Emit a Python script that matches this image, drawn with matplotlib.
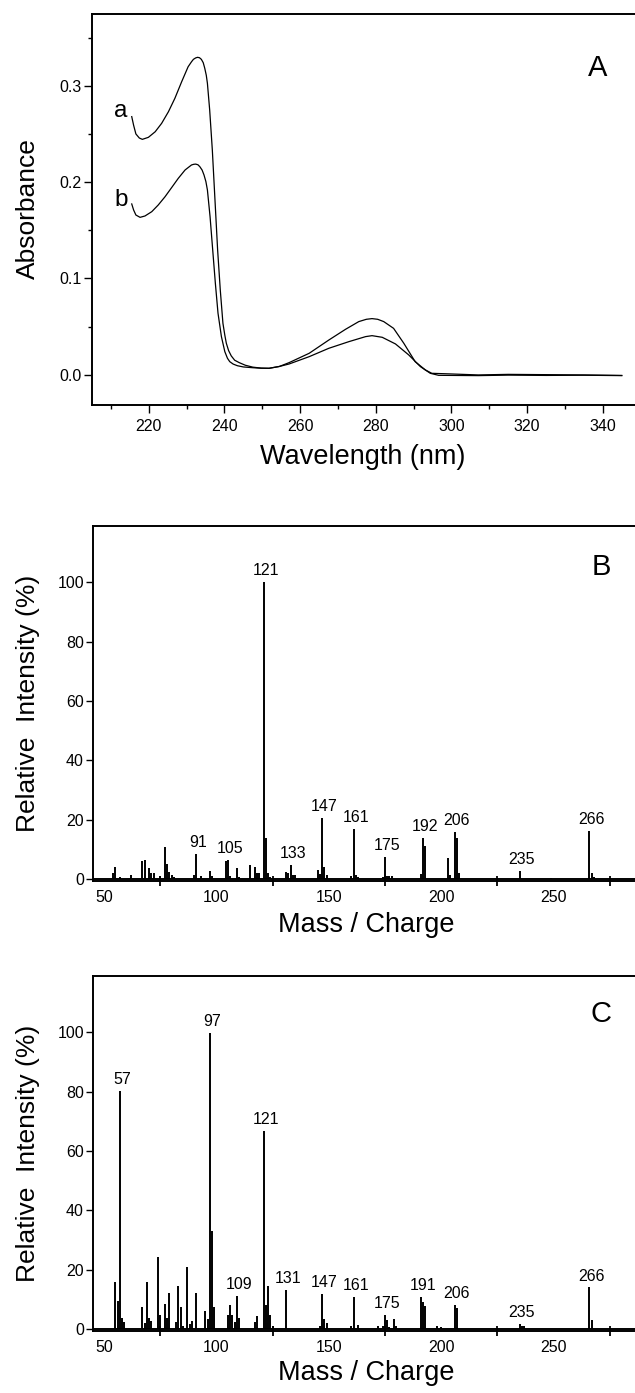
import matplotlib
matplotlib.use("Agg")
import matplotlib.pyplot as plt
from matplotlib.ticker import MultipleLocator, FixedLocator
import numpy as np

plt.rcParams['font.family'] = ['Liberation Sans', 'DejaVu Sans']

# ---------------- Panel A data (UV spectra) ----------------
wl_a = [215.5, 216.0, 216.6, 217.5, 218.3, 219.9, 221.7, 223.4, 225.2, 226.9, 228.7,
        230.4, 231.3, 231.8, 232.4, 232.9, 233.4, 233.9, 234.4, 234.8, 235.2, 235.5,
        236.1, 236.8, 237.5, 238.2, 238.9, 239.6, 240.1, 240.5, 241.1, 241.8, 242.7,
        243.9, 245.5, 247.5, 249.7, 251.8, 254.5, 257.1, 262.4, 267.6, 272.0,
        275.5, 277.5, 279.0, 280.5, 282.1, 284.7, 287.4, 290.4, 293.1, 294.8, 300.1,
        307.1, 315.0, 325.0, 335.0, 345.0]
abs_a = [0.268, 0.259, 0.250, 0.2458, 0.2444, 0.2465, 0.2523, 0.2610, 0.2731, 0.2870, 0.3043,
         0.3198, 0.3250, 0.3275, 0.3290, 0.3296, 0.3292, 0.3275, 0.3240, 0.3182, 0.3110, 0.3026,
         0.2749, 0.2333, 0.1814, 0.1295, 0.0880, 0.0534, 0.0410, 0.0326, 0.0250, 0.0195, 0.0150,
         0.0125, 0.0098, 0.0078, 0.0068, 0.0066, 0.0085, 0.0125, 0.0222, 0.0360, 0.0471,
         0.0551, 0.0575, 0.0582, 0.0575, 0.0551, 0.0481, 0.0326, 0.0135, 0.0049, 0.0014, 0.0007,
         -0.0003, 0.0003, 0.0, -0.0003, -0.0008]

wl_b = [215.5, 216.0, 216.6, 217.7, 219.0, 220.8, 222.5, 224.3, 226.1, 227.8, 229.6,
        231.3, 231.9, 232.4, 233.0, 233.5, 234.1, 234.6, 235.1, 235.5, 236.2, 236.9,
        237.6, 238.3, 239.2, 240.1, 240.8, 241.4, 242.3, 243.4, 245.0, 247.5, 249.7,
        251.8, 254.5, 257.1, 262.4, 267.6, 272.9, 277.3, 279.0, 281.7, 285.2, 288.7,
        291.8, 294.4, 296.6, 307.1, 315.0, 325.0, 335.0, 345.0]
abs_b = [0.1773, 0.1710, 0.1658, 0.1634, 0.1648, 0.1693, 0.1762, 0.1848, 0.1946, 0.2039, 0.2126,
         0.2178, 0.2185, 0.2187, 0.2180, 0.2160, 0.2125, 0.2074, 0.2005, 0.1918, 0.1641, 0.1295,
         0.0949, 0.0638, 0.0395, 0.0239, 0.0170, 0.0135, 0.0110, 0.0093, 0.0080, 0.0072, 0.0067,
         0.0066, 0.0085, 0.0111, 0.0187, 0.0274, 0.0343, 0.0395, 0.0405, 0.0388, 0.0319, 0.0205,
         0.0083, 0.0014, -0.0007, -0.0010, -0.0005, -0.0008, -0.0006, -0.0010]

# ---------------- Panel B data (mass spectrum) ----------------
mz_B = [54, 55, 57, 62, 67, 68, 70, 71, 72, 75, 77, 78, 79, 80, 81,
        90, 91, 93, 97, 98, 104, 105, 106, 109, 110, 115, 117, 118, 119,
        121, 122, 123, 124, 131, 132, 133, 134, 135, 145, 146, 147, 148, 149,
        160, 161, 162, 163, 174, 175, 176, 177, 178, 191, 192, 193,
        203, 204, 206, 207, 208, 225, 235, 249, 266, 267, 268]
int_B = [1.9, 4.2, 0.8, 1.3, 6.1, 6.4, 3.6, 1.9, 2.1, 1.0, 10.9, 5.1, 2.5, 1.3, 0.6,
         1.3, 8.4, 1.0, 2.7, 1.1, 6.1, 6.4, 1.1, 3.6, 0.8, 4.7, 4.2, 1.9, 2.1,
         100.0, 13.9, 1.9, 0.8, 2.5, 1.9, 4.7, 1.3, 1.3, 3.0, 1.6, 20.7, 4.2, 1.3,
         1.0, 16.9, 1.3, 0.6, 0.6, 7.5, 1.0, 1.0, 1.0, 1.6, 13.7, 11.2,
         7.0, 1.3, 16.0, 13.9, 2.1, 0.5, 2.8, 0.5, 16.3, 1.9, 0.8]
labels_B = [91, 105, 121, 133, 147, 161, 175, 192, 206, 235, 266]

# ---------------- Panel C data (mass spectrum) ----------------
mz_C = [55, 56, 57, 58, 59, 67, 68, 69, 70, 71, 74, 75, 77, 78, 79, 82, 83, 84, 85,
        87, 88, 89, 91, 95, 96, 97, 98, 99, 105, 106, 107, 108, 109, 110, 117, 118,
        121, 122, 123, 124, 125, 131, 146, 147, 148, 149, 160, 161, 163,
        172, 174, 175, 176, 177, 179, 180, 191, 192, 193, 198, 200, 206, 207,
        235, 236, 237, 266, 267]
int_C = [15.7, 9.6, 80.4, 3.7, 2.2, 7.3, 2.0, 15.7, 3.6, 2.6, 24.3, 4.8, 8.4, 3.7, 12.1, 2.2, 14.6, 7.3, 1.1,
         20.8, 1.8, 2.6, 12.1, 6.0, 3.4, 99.8, 32.9, 7.3, 4.8, 8.2, 4.8, 2.2, 11.0, 3.6, 2.2, 4.5,
         66.9, 8.2, 14.6, 4.7, 1.1, 13.3, 1.1, 11.9, 3.4, 2.0, 1.1, 10.7, 1.5,
         1.1, 1.1, 4.8, 3.1, 0.7, 3.4, 1.1, 10.7, 9.0, 7.9, 0.9, 0.7, 8.0, 7.1,
         1.7, 1.1, 0.9, 14.0, 3.1]
labels_C = [57, 97, 109, 121, 131, 147, 161, 175, 191, 206, 235, 266]

W, H = 635, 1393
fig = plt.figure(figsize=(W / 100, H / 100), dpi=100)


def box(l, t, r, b):
    return [l / W, 1 - b / H, (r - l) / W, (b - t) / H]


# ---------------- Panel A ----------------
axA = fig.add_axes(box(92, 14, 635, 404.5))
axA.plot(wl_a, abs_a, color='black', lw=0.9)
axA.plot(wl_b, abs_b, color='black', lw=0.9)
axA.set_xlim(205, 348.5)
axA.set_ylim(-0.031, 0.3746)
axA.xaxis.set_major_locator(MultipleLocator(20))
axA.xaxis.set_minor_locator(MultipleLocator(10))
axA.yaxis.set_major_locator(FixedLocator([0.0, 0.1, 0.2, 0.3]))
axA.yaxis.set_minor_locator(FixedLocator([0.05, 0.15, 0.25, 0.35]))
axA.set_yticklabels(['0.0', '0.1', '0.2', '0.3'])
axA.tick_params(axis='both', which='major', direction='out', length=5.5, width=1.0,
                labelsize=11.5)
axA.tick_params(axis='x', which='major', pad=5)
axA.tick_params(axis='y', which='major', pad=2)
axA.tick_params(axis='both', which='minor', direction='out', length=3, width=1.0)
axA.spines['right'].set_visible(False)
for s in ['left', 'bottom', 'top']:
    axA.spines[s].set_linewidth(1.4)
axA.text(212.7, 0.274, 'a', fontsize=17.5, ha='center', va='center')
axA.text(212.7, 0.181, 'b', fontsize=17.5, ha='center', va='center')
fig.text(598 / W, 1 - 68 / H, 'A', fontsize=21, ha='center', va='center')
fig.text(28 / W, 1 - 209 / H, 'Absorbance', fontsize=19, rotation=90,
         ha='center', va='center')
fig.text(363 / W, 1 - 457 / H, 'Wavelength (nm)', fontsize=19.5,
         ha='center', va='center')


def ms_panel(top, bottom, mz, inten, labels, letter, letter_y, xlabel_y):
    ax = fig.add_axes(box(93, top, 635, bottom))
    ax.vlines(mz, 0, inten, color='black', lw=1.4)
    ax.axhline(0, color='black', lw=1.4)
    ax.set_xlim(45, 286.3)
    ax.set_ylim(-0.5, 119)
    ax.xaxis.set_major_locator(MultipleLocator(50))
    ax.xaxis.set_minor_locator(FixedLocator([75, 125, 175, 225, 275]))
    ax.set_yticks([0, 20, 40, 60, 80, 100])
    ax.tick_params(axis='x', which='major', length=0, pad=7, labelsize=11.5)
    ax.tick_params(axis='x', which='minor', direction='inout', length=7, width=1.3)
    ax.tick_params(axis='y', which='major', direction='out', length=5, width=1.0,
                   pad=1.5, labelsize=11.5)
    ax.spines['right'].set_visible(False)
    for s in ['left', 'bottom', 'top']:
        ax.spines[s].set_linewidth(1.4)
    mz_arr = np.array(mz)
    in_arr = np.array(inten)
    for m in labels:
        h = in_arr[mz_arr == m].max()
        ax.annotate(str(m), (m, h), xytext=(1.5, 5), textcoords='offset points',
                    ha='center', va='baseline', fontsize=11.5)
    fig.text(601 / W, 1 - letter_y / H, letter, fontsize=21, ha='center', va='center')
    fig.text(28 / W, 1 - (top + bottom) / 2 / H, 'Relative  Intensity (%)', fontsize=19,
             rotation=90, ha='center', va='center')
    fig.text(366 / W, 1 - xlabel_y / H, 'Mass / Charge', fontsize=19.5,
             ha='center', va='center')
    return ax


ms_panel(526, 880.5, mz_B, int_B, labels_B, 'B', 567, 925)
ms_panel(976, 1330.5, mz_C, int_C, labels_C, 'C', 1014, 1373)

fig.savefig('out.png', dpi=100)
